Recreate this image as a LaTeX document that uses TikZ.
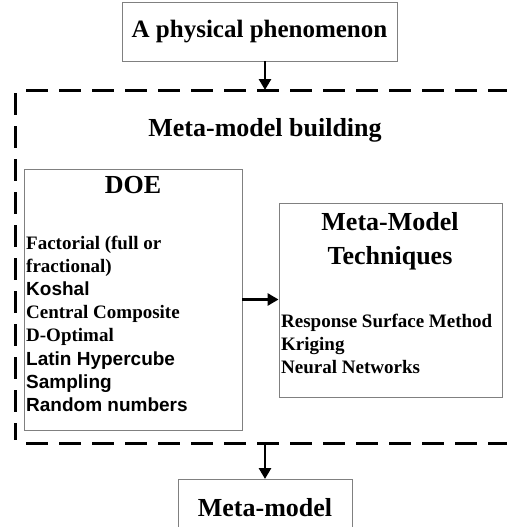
\documentclass[tikz,border=0pt]{standalone}
\usepackage{fontspec}
\setmainfont{Liberation Serif}
\newfontfamily\armfont{Liberation Sans}
\usetikzlibrary{positioning,arrows.meta}
\definecolor{boxgray}{RGB}{128,128,128}

\begin{document}
\begin{tikzpicture}[x=1pt,y=-1pt,
  box/.style={draw=boxgray,line width=0.9pt,inner sep=0pt},
  head/.style={font=\fontsize{26}{34}\selectfont\bfseries,align=center},
  items/.style={font=\fontsize{19}{23.2}\selectfont\bfseries,align=left,inner sep=0pt},
  flow/.style={line width=2.8pt,-{Triangle[length=11pt,width=12pt]}},
  frame/.style={line width=3pt,dash pattern=on 22pt off 11pt}]

  \useasboundingbox (0,0) rectangle (506,527);

  % input and output
  \node[box,head,font=\fontsize{25}{34}\selectfont\bfseries,minimum width=275pt,minimum height=59pt] (phen) at (259.5,31.5) {A physical phenomenon};
  \node[box,head,minimum width=174pt,minimum height=56pt,anchor=north] (model) at (265,479) {Meta-model};

  % the dashed building frame
  \draw[frame] (26,90) -- (520,90);
  \draw[frame] (15,93) -- (15,440);
  \draw[frame] (26,443) -- (520,443);
  \coordinate (fin) at (265,90);
  \coordinate (fout) at (265,443);
  \node[head] (build) at (265,130) {Meta-model building};

  % DOE box
  \node[box,minimum width=218pt,minimum height=261pt] (doe) at (133,299.5) {};
  \node[head,inner sep=0pt,below=8pt of doe.north] (doehead) {DOE};
  \node[items,anchor=north west] (doelist) at (26,235.5) {Factorial (full or\\fractional)\\
    {\armfont Koshal}\\Central Composite\\D-Optimal\\{\armfont Latin Hypercube}\\
    {\armfont Sampling}\\{\armfont Random numbers}};

  % techniques box
  \node[box,minimum width=223pt,minimum height=194pt] (mmt) at (390.5,300) {};
  \node[head,inner sep=0pt,anchor=north] (mmthead) at (390,212) {Meta-Model\\Techniques};
  \node[items,anchor=north west] (mmtlist) at (281,314) {Response Surface Method\\Kriging\\Neural Networks};

  % arrows
  \draw[flow] (phen.south -| fin) -- (fin);
  \draw[flow] (doe.east) -- (doe.east -| mmt.west);
  \draw[flow] (fout) -- (model);
\end{tikzpicture}
\end{document}
